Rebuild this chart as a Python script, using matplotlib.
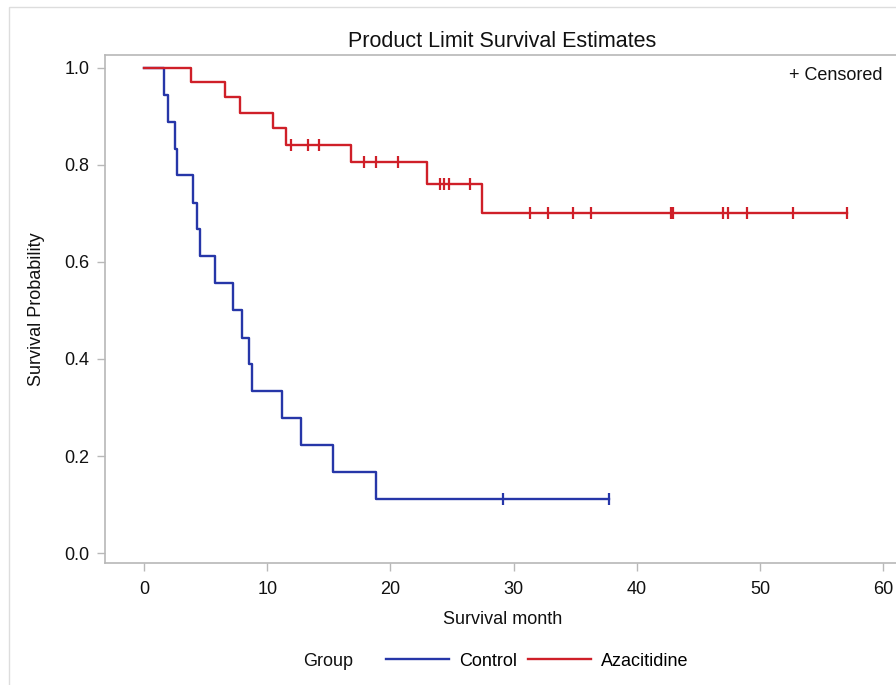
import numpy as np
import matplotlib
matplotlib.use("Agg")
import matplotlib.pyplot as plt
from matplotlib.patches import Rectangle

plt.rcParams["font.family"] = ["Liberation Sans Narrow", "Liberation Sans", "DejaVu Sans"]

# Control arm: step times (month) and survival level after each step
ctrl_times = [0, 1.65, 1.97, 2.5, 2.65, 4.0, 4.27, 4.55, 5.76, 7.25, 7.93, 8.55, 8.79,
              11.18, 12.74, 15.32, 18.83]
ctrl_surv = [1.0, 0.944, 0.889, 0.833, 0.778, 0.722, 0.667, 0.611, 0.556, 0.5, 0.444,
             0.389, 0.333, 0.278, 0.222, 0.167, 0.111]
ctrl_censor = [29.1, 37.7]
ctrl_end = 37.7

# Azacitidine arm
aza_times = [0, 3.79, 6.57, 7.79, 10.5, 11.5, 16.78, 22.95, 27.46]
aza_surv = [1.0, 0.97, 0.94, 0.907, 0.875, 0.841, 0.805, 0.760, 0.700]
aza_censor = [11.93, 13.29, 14.2, 17.88, 18.83, 20.59, 24.03, 24.38, 24.76, 26.46,
              31.33, 32.82, 34.8, 36.26, 42.75, 42.91, 46.97, 47.43, 48.92, 52.7, 57.04]
aza_end = 57.04

BLUE = "#2636a8"
RED = "#cf1f28"
FRAME_GRAY = "#b8b8b8"
TXT = "#111111"


def km_curve(ax, times, surv, censor, end, color, label):
    t = list(times) + [end]
    s = list(surv) + [surv[-1]]
    line, = ax.step(t, s, where="post", color=color, lw=1.7, label=label)
    idx = np.searchsorted(times, censor, side="right") - 1
    cy = np.asarray(surv)[idx]
    ax.plot(censor, cy, ls="none", marker="|", ms=9, mew=1.6, color=color)
    return line


fig = plt.figure(figsize=(8.96, 6.85), dpi=100)
fig.add_artist(Rectangle((9 / 896, -0.1), 1.2, 1.1 - 7 / 685, transform=fig.transFigure,
                         fill=False, ec="#dddddd", lw=1.0))

ax = fig.add_axes([105 / 896, 121.7 / 685, 795 / 896, 508.3 / 685])
l_ctrl = km_curve(ax, ctrl_times, ctrl_surv, ctrl_censor, ctrl_end, BLUE, "Control")
l_aza = km_curve(ax, aza_times, aza_surv, aza_censor, aza_end, RED, "Azacitidine")

ax.set_xlim(-3.17, 61.35)
ax.set_ylim(-0.021, 1.026)
ax.set_xticks(range(0, 61, 10))
ax.set_yticks([0.0, 0.2, 0.4, 0.6, 0.8, 1.0])
ax.set_yticklabels(["0.0", "0.2", "0.4", "0.6", "0.8", "1.0"])
for sp in ax.spines.values():
    sp.set_color(FRAME_GRAY)
    sp.set_linewidth(1.2)
ax.tick_params(axis="both", colors=FRAME_GRAY, labelcolor=TXT, labelsize=13,
               length=6, width=1.0)
ax.tick_params(axis="x", pad=7)
ax.tick_params(axis="y", pad=5)

ax.set_title("Product Limit Survival Estimates", fontsize=15.5, pad=6, color=TXT)
ax.set_xlabel("Survival month", fontsize=13, labelpad=9, color=TXT)
ax.set_ylabel("Survival Probability", fontsize=13, labelpad=14, color=TXT)
ax.text(0.9786, 0.9606, "+ Censored", transform=ax.transAxes, ha="right", va="center",
        fontsize=13, color=TXT)

fig.text(328 / 896, 1 - 661 / 685, "Group", ha="center", va="center", fontsize=13,
         color=TXT)
fig.legend(handles=[l_ctrl, l_aza], loc="center", bbox_to_anchor=(537 / 896, 1 - 661 / 685),
           ncol=2, frameon=False, fontsize=13, handlelength=3.5, handletextpad=0.55,
           columnspacing=0.6)

fig.savefig("out.png", dpi=100)
